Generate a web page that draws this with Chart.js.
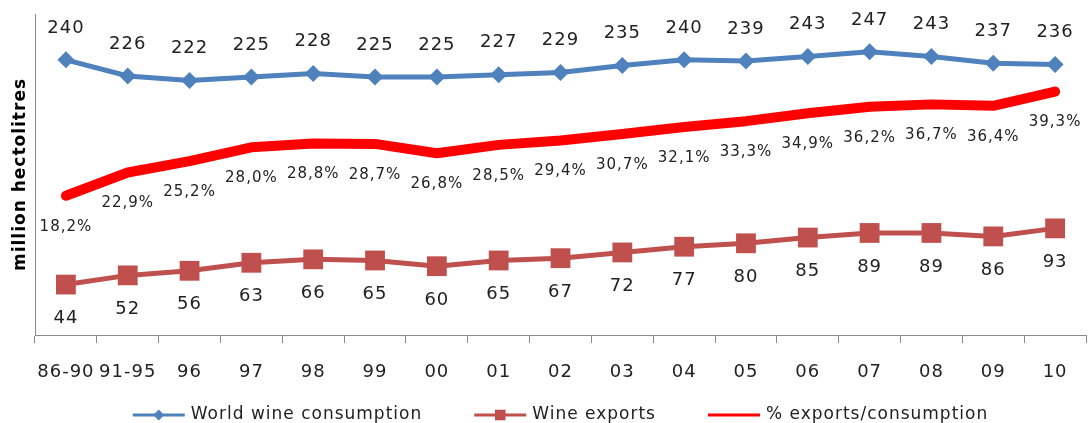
<!DOCTYPE html>
<html>
<head>
<meta charset="utf-8">
<script src="https://cdn.jsdelivr.net/npm/chart.js@4.4.1/dist/chart.umd.min.js"></script>
<style>
  html, body { margin: 0; padding: 0; background: #fff; overflow: hidden; }
  #wrap { width: 1092px; height: 423px; overflow: hidden; }
  #box { width: 1100px; height: 432px; position: relative; }
</style>
</head>
<body>
<div id="wrap"><div id="box"><canvas id="wineChart"></canvas></div></div>
<script>
// ------------------ data -------------------
var years = ['86-90', '91-95', '96', '97', '98', '99', '00', '01', '02', '03', '04', '05', '06', '07', '08', '09', '10'];
var consumption = [240, 226, 222, 225, 228, 225, 225, 227, 229, 235, 240, 239, 243, 247, 243, 237, 236];
var wineExports = [44, 52, 56, 63, 66, 65, 60, 65, 67, 72, 77, 80, 85, 89, 89, 86, 93];
var exportShare = [18.2, 22.9, 25.2, 28.0, 28.8, 28.7, 26.8, 28.5, 29.4, 30.7, 32.1, 33.3, 34.9, 36.2, 36.7, 36.4, 39.3];

var FONT = '"DejaVu Sans", Verdana, sans-serif';
var axisGrey = '#8c8c8c';

function plainNum(v) { return String(v); }
function pctNum(v) { return v.toFixed(1).replace('.', ',') + '%'; }

// chữ hơi giãn giống Verdana của Excel
var wideText = {
  id: 'wideText',
  beforeDraw: function (chart) {
    chart.ctx.letterSpacing = '1px';
  }
};

// nhãn giá trị trên từng điểm
var valueLabels = {
  id: 'valueLabels',
  afterDatasetsDraw: function (chart) {
    var ctx = chart.ctx;
    ctx.save();
    ctx.letterSpacing = '1px';
    ctx.fillStyle = '#222';
    ctx.textAlign = 'center';
    ctx.textBaseline = 'middle';
    chart.data.datasets.forEach(function (ds, i) {
      var meta = chart.getDatasetMeta(i);
      ctx.font = ds.labelFont;
      meta.data.forEach(function (pt, j) {
        ctx.fillText(ds.labelFormat(ds.data[j]), pt.x, pt.y + ds.labelOffset);
      });
    });
    ctx.restore();
  }
};

// legend kiểu Excel: đường + marker
var lineLegend = {
  id: 'lineLegend',
  afterDraw: function (chart) {
    var ctx = chart.ctx;
    var area = chart.chartArea;
    var lineLen = 52, textGap = 6, itemGap = 52;
    ctx.save();
    ctx.letterSpacing = '1px';
    ctx.font = '17px ' + FONT;
    var items = chart.data.datasets;
    var total = 0;
    items.forEach(function (ds, i) {
      total += lineLen + textGap + ctx.measureText(ds.label).width;
      if (i < items.length - 1) total += itemGap;
    });
    var x = (area.left + area.right) / 2 - total / 2;
    var y = area.bottom + 80;
    items.forEach(function (ds) {
      ctx.strokeStyle = ds.borderColor;
      ctx.lineWidth = 3;
      ctx.beginPath();
      ctx.moveTo(x, y);
      ctx.lineTo(x + lineLen, y);
      ctx.stroke();
      if (ds.pointRadius > 0) {
        ctx.fillStyle = ds.borderColor;
        Chart.helpers.drawPoint(ctx, { pointStyle: ds.pointStyle, radius: ds.legendRadius, rotation: 0, borderWidth: 0 }, x + lineLen / 2, y);
      }
      ctx.fillStyle = '#222';
      ctx.textAlign = 'left';
      ctx.textBaseline = 'middle';
      ctx.fillText(ds.label, x + lineLen + textGap, y);
      x += lineLen + textGap + ctx.measureText(ds.label).width + itemGap;
    });
    ctx.restore();
  }
};

var ctx = document.getElementById('wineChart').getContext('2d');
var wineChart = new Chart(ctx, {
  type: 'line',
  data: {
    labels: years,
    datasets: [{
      label: 'World wine consumption',
      data: consumption,
      yAxisID: 'y',
      borderColor: '#4F81BD',
      backgroundColor: '#4F81BD',
      borderWidth: 5,
      pointStyle: 'rectRot',
      pointRadius: 8.5,
      pointBorderWidth: 0,
      legendRadius: 5.5,
      tension: 0,
      labelFont: '18px ' + FONT,
      labelOffset: -32,
      labelFormat: plainNum
    }, {
      label: 'Wine exports',
      data: wineExports,
      yAxisID: 'y',
      borderColor: '#C0504D',
      backgroundColor: '#C0504D',
      borderWidth: 5,
      pointStyle: 'rect',
      pointRadius: 14,
      pointBorderWidth: 0,
      legendRadius: 7.5,
      tension: 0,
      labelFont: '18px ' + FONT,
      labelOffset: 34,
      labelFormat: plainNum
    }, {
      label: '% exports/consumption',
      data: exportShare,
      yAxisID: 'y2',
      borderColor: '#FF0000',
      backgroundColor: '#FF0000',
      borderWidth: 10,
      borderCapStyle: 'round',
      borderJoinStyle: 'round',
      pointRadius: 0,
      tension: 0,
      labelFont: '15px ' + FONT,
      labelOffset: 31,
      labelFormat: pctNum
    }]
  },
  options: {
    responsive: true,
    maintainAspectRatio: false,
    animation: false,
    devicePixelRatio: 1,
    layout: { padding: { top: 11, right: 3, bottom: 37, left: 0 } },
    scales: {
      x: {
        offset: true,
        grid: { offset: true, drawOnChartArea: false, drawTicks: true, tickLength: 8, color: axisGrey, lineWidth: 1 },
        border: { color: axisGrey, width: 1 },
        ticks: { color: '#222', font: { family: FONT, size: 18 }, padding: 19, autoSkip: false, maxRotation: 0 },
        afterFit: function (s) { s.height = 60; }
      },
      y: {
        min: 0,
        max: 280,
        grid: { display: false },
        border: { color: axisGrey, width: 1 },
        ticks: { display: false },
        title: { display: true, text: 'million hectolitres', color: '#000', font: { family: FONT, size: 17, weight: 'bold' }, padding: { top: 10, bottom: 0 } },
        afterFit: function (s) { s.width = 35; }
      },
      y2: {
        display: false,
        min: -10,
        max: 55
      }
    },
    plugins: {
      legend: { display: false },
      tooltip: { enabled: false }
    }
  },
  plugins: [wideText, valueLabels, lineLegend]
});
</script>
</body>
</html>
